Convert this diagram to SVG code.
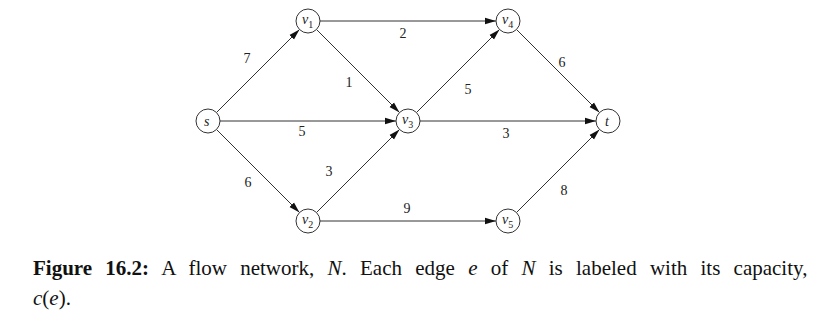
<svg xmlns="http://www.w3.org/2000/svg" width="816" height="332" viewBox="0 0 816 332">
<style>
.node circle{fill:#fff;stroke:#333;stroke-width:1}
.nl{font-family:"Liberation Serif",serif;font-style:italic;font-size:14px;fill:#222}
.sub{font-size:10px;font-style:normal}
.edge{stroke:#333;stroke-width:1;fill:none}
.el{font-family:"Liberation Serif",serif;font-size:14px;fill:#222;text-anchor:middle}
.cap{font-family:"Liberation Serif",serif;font-size:21px;fill:#111}
</style>
<defs>
<marker id="ah" markerUnits="userSpaceOnUse" markerWidth="12" markerHeight="8" refX="11" refY="4" orient="auto">
<path d="M0,0.8 L11,4 L0,7.2 Z" fill="#111"/>
</marker>
</defs>
<rect width="816" height="332" fill="#fff"/>
<g id="connectors">
<line class="edge" x1="216.5" y1="112.5" x2="299.5" y2="29.5" marker-end="url(#ah)"/>
<line class="edge" x1="220" y1="121" x2="396" y2="121" marker-end="url(#ah)"/>
<line class="edge" x1="216.5" y1="129.5" x2="299.5" y2="212.5" marker-end="url(#ah)"/>
<line class="edge" x1="320" y1="21" x2="496" y2="21" marker-end="url(#ah)"/>
<line class="edge" x1="316.5" y1="29.5" x2="399.5" y2="112.5" marker-end="url(#ah)"/>
<line class="edge" x1="316.5" y1="212.5" x2="399.5" y2="129.5" marker-end="url(#ah)"/>
<line class="edge" x1="320" y1="221" x2="496" y2="221" marker-end="url(#ah)"/>
<line class="edge" x1="416.5" y1="112.5" x2="499.5" y2="29.5" marker-end="url(#ah)"/>
<line class="edge" x1="420" y1="121" x2="596" y2="121" marker-end="url(#ah)"/>
<line class="edge" x1="516.5" y1="29.5" x2="599.5" y2="112.5" marker-end="url(#ah)"/>
<line class="edge" x1="516.5" y1="212.5" x2="599.5" y2="129.5" marker-end="url(#ah)"/>
<text class="el" x="247" y="63">7</text>
<text class="el" x="403" y="38">2</text>
<text class="el" x="349" y="87">1</text>
<text class="el" x="302" y="136">5</text>
<text class="el" x="468" y="94">5</text>
<text class="el" x="562" y="67">6</text>
<text class="el" x="506" y="138">3</text>
<text class="el" x="248" y="187">6</text>
<text class="el" x="329" y="176">3</text>
<text class="el" x="407" y="213">9</text>
<text class="el" x="564" y="195">8</text>
</g>
<g id="s" class="node"><circle cx="208" cy="121" r="12"/><text class="nl" x="204" y="126">s</text></g>
<g id="v1" class="node"><circle cx="308" cy="21" r="12"/><text class="nl" x="302" y="24">v<tspan class="sub" dy="4">1</tspan></text></g>
<g id="v4" class="node"><circle cx="508" cy="21" r="12"/><text class="nl" x="502" y="24">v<tspan class="sub" dy="4">4</tspan></text></g>
<g id="v3" class="node"><circle cx="408" cy="121" r="12"/><text class="nl" x="402" y="124">v<tspan class="sub" dy="4">3</tspan></text></g>
<g id="t" class="node"><circle cx="608" cy="121" r="12"/><text class="nl" x="605" y="126">t</text></g>
<g id="v2" class="node"><circle cx="308" cy="221" r="12"/><text class="nl" x="302" y="224">v<tspan class="sub" dy="4">2</tspan></text></g>
<g id="v5" class="node"><circle cx="508" cy="221" r="12"/><text class="nl" x="502" y="224">v<tspan class="sub" dy="4">5</tspan></text></g>
<g id="caption">
<text class="cap" x="33" y="275" word-spacing="8"><tspan font-weight="bold">Figure 16.2:</tspan> A flow network, <tspan font-style="italic">N</tspan>. Each edge <tspan font-style="italic">e</tspan> of <tspan font-style="italic">N</tspan> is labeled with its capacity,</text>
<text class="cap" x="33" y="305"><tspan font-style="italic">c</tspan>(<tspan font-style="italic">e</tspan>).</text>
</g>
</svg>
